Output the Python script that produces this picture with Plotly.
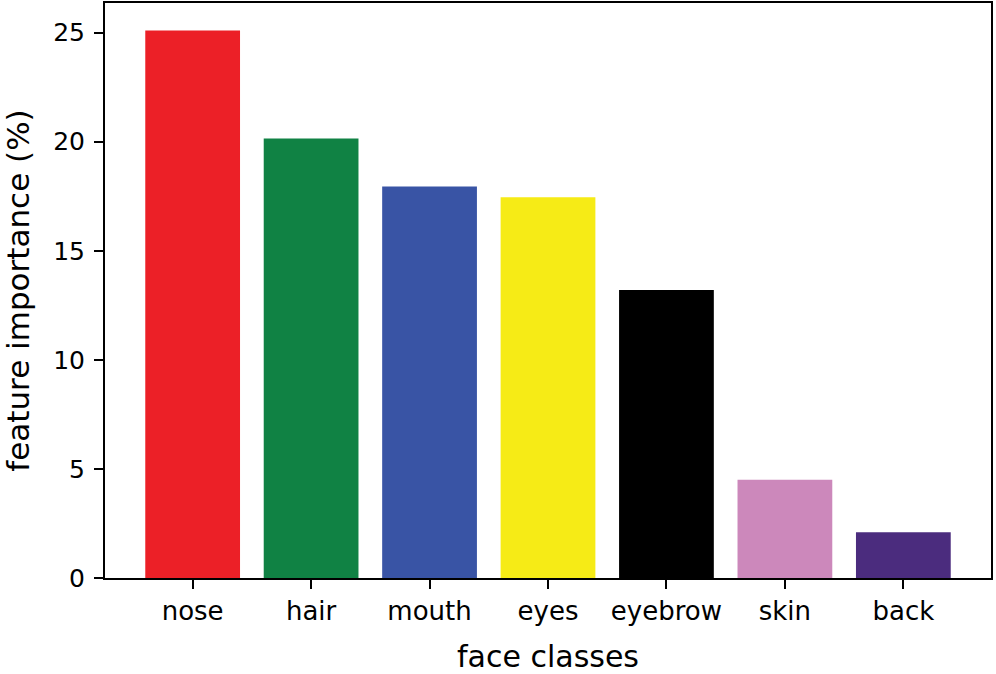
import plotly.graph_objects as go

classes = ['nose', 'hair', 'mouth', 'eyes', 'eyebrow', 'skin', 'back']
importance = [25.1, 20.15, 17.95, 17.45, 13.2, 4.5, 2.1]
colors = ['#EC2027', '#108244', '#3954A5', '#F6EB16', '#000000', '#CC88BB', '#4B2C7E']

fig = go.Figure()
fig.add_trace(go.Bar(x=classes, y=importance, marker=dict(color=colors, line=dict(width=0)),
                     width=0.8))

fig.update_layout(
    width=996, height=674,
    margin=dict(l=105, r=5, t=3, b=96),
    paper_bgcolor='white', plot_bgcolor='white',
    font=dict(family='DejaVu Sans', size=25, color='black'),
    showlegend=False,
    xaxis=dict(
        title=dict(text='face classes', font=dict(size=30), standoff=24),
        tickfont=dict(size=26),
        range=[-0.74, 6.74], showline=True, mirror=True, linecolor='black', linewidth=2,
        ticks='outside', ticklen=9, tickwidth=2, tickcolor='black', showgrid=False,
        automargin=False,
    ),
    yaxis=dict(
        title=dict(text='feature importance (%)', font=dict(size=31), standoff=14),
        tickfont=dict(size=25), ticklabelstandoff=4,
        range=[0, 26.36], tickvals=[0, 5, 10, 15, 20, 25],
        showline=True, mirror=True, linecolor='black', linewidth=2,
        ticks='outside', ticklen=9, tickwidth=2, tickcolor='black', showgrid=False,
        zeroline=False, automargin=False,
    ),
)

fig.write_html("out.html", config={'displayModeBar': False},
               post_script="document.body.style.margin='0';")
